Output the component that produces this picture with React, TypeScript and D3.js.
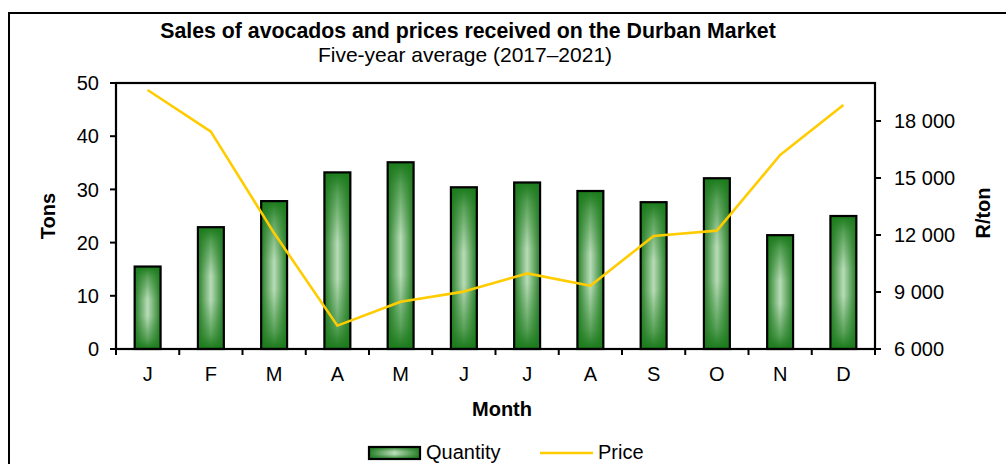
import React from "react";
import * as d3 from "d3";

const months = ["J", "F", "M", "A", "M", "J", "J", "A", "S", "O", "N", "D"];
const quantity = [15.5, 22.9, 27.8, 33.2, 35.1, 30.4, 31.3, 29.7, 27.6, 32.1, 21.4, 25.0];
const price = [19630, 17440, 12100, 7230, 8490, 9020, 9980, 9330, 11950, 12230, 16210, 18840];
const tonTicks = [0, 10, 20, 30, 40, 50];
const priceTicks = [6000, 9000, 12000, 15000, 18000];

const W = 1006;
const H = 464;
const m = { left: 116, right: 875, top: 83, bottom: 349 };
const FONT = "'Liberation Sans', Arial, sans-serif";
const FS = 20;

const fmt = (v: number) => d3.format(",")(v).replace(",", " ");

export default function App() {
  const keys = months.map((_, i) => String(i));
  const x = d3.scaleBand().domain(keys).range([m.left, m.right]).paddingInner(0).paddingOuter(0);
  const yL = d3.scaleLinear().domain([0, 50]).range([m.bottom, m.top]);
  const yR = d3.scaleLinear().domain([6000, 20000]).range([m.bottom, m.top]);
  const barW = x.bandwidth() * 0.41;

  const line = d3
    .line<number>()
    .x((_, i) => (x(String(i)) as number) + x.bandwidth() / 2)
    .y((d) => yR(d));

  return (
    <svg
      width={W}
      height={H}
      style={{ position: "absolute", left: 0, top: 0, background: "#fff" }}
      fontFamily={FONT}
    >
      <defs>
        <linearGradient id="barH" x1="0" x2="1" y1="0" y2="0">
          <stop offset="0%" stopColor="#267f26" />
          <stop offset="50%" stopColor="#b8dcb8" />
          <stop offset="100%" stopColor="#267f26" />
        </linearGradient>
        <linearGradient id="barV" x1="0" x2="0" y1="0" y2="1">
          <stop offset="0%" stopColor="#1a7a1a" stopOpacity={1} />
          <stop offset="12%" stopColor="#1a7a1a" stopOpacity={0.6} />
          <stop offset="40%" stopColor="#1a7a1a" stopOpacity={0} />
          <stop offset="60%" stopColor="#1a7a1a" stopOpacity={0} />
          <stop offset="88%" stopColor="#1a7a1a" stopOpacity={0.6} />
          <stop offset="100%" stopColor="#1a7a1a" stopOpacity={1} />
        </linearGradient>
      </defs>

      {/* outer frame, runs off the picture on the right and bottom */}
      <rect x={9} y={13} width={1010} height={470} fill="none" stroke="#000" strokeWidth={2} />

      <text x={468} y={38} textAnchor="middle" fontWeight="bold" fontSize={21.3}>
        Sales of avocados and prices received on the Durban Market
      </text>
      <text x={465} y={62} textAnchor="middle" fontSize={21}>
        Five-year average (2017–2021)
      </text>

      {/* bars */}
      {quantity.map((q, i) => {
        const bx = (x(String(i)) as number) + (x.bandwidth() - barW) / 2;
        const by = yL(q);
        const bh = yL(0) - by;
        return (
          <g key={i}>
            <rect x={bx} y={by} width={barW} height={bh} fill="url(#barH)" />
            <rect x={bx} y={by} width={barW} height={bh} fill="url(#barV)" stroke="#000" strokeWidth={2.2} />
          </g>
        );
      })}

      <path d={line(price) || ""} fill="none" stroke="#ffcc00" strokeWidth={2.6} strokeLinejoin="round" />

      {/* plot box */}
      <rect
        x={m.left}
        y={m.top}
        width={m.right - m.left}
        height={m.bottom - m.top}
        fill="none"
        stroke="#000"
        strokeWidth={2.2}
      />

      {/* left axis */}
      {tonTicks.map((t) => (
        <g key={t}>
          <line x1={m.left - 6} x2={m.left} y1={yL(t)} y2={yL(t)} stroke="#000" strokeWidth={2} />
          <text x={99} y={yL(t)} dy="0.36em" textAnchor="end" fontSize={FS}>
            {t}
          </text>
        </g>
      ))}

      {/* right axis */}
      {priceTicks.map((t) => (
        <g key={t}>
          <line x1={m.right} x2={m.right + 6} y1={yR(t)} y2={yR(t)} stroke="#000" strokeWidth={2} />
          <text x={894} y={yR(t)} dy="0.36em" textAnchor="start" fontSize={FS}>
            {fmt(t)}
          </text>
        </g>
      ))}

      {/* x axis ticks and labels */}
      {keys.concat(["12"]).map((k, i) => {
        const tx = i < 12 ? (x(k) as number) : m.right;
        return <line key={"t" + i} x1={tx} x2={tx} y1={m.bottom} y2={m.bottom + 6} stroke="#000" strokeWidth={2} />;
      })}
      {months.map((mo, i) => (
        <text
          key={"m" + i}
          x={(x(String(i)) as number) + x.bandwidth() / 2}
          y={381}
          textAnchor="middle"
          fontSize={FS}
        >
          {mo}
        </text>
      ))}

      <text x={502} y={416} textAnchor="middle" fontWeight="bold" fontSize={FS}>
        Month
      </text>
      <text transform="translate(55,216) rotate(-90)" textAnchor="middle" fontWeight="bold" fontSize={FS}>
        Tons
      </text>
      <text transform="translate(990,213) rotate(-90)" textAnchor="middle" fontWeight="bold" fontSize={FS}>
        R/ton
      </text>

      {/* legend */}
      <rect x={369} y={447} width={51} height={12} fill="url(#barH)" />
      <rect x={369} y={447} width={51} height={12} fill="url(#barV)" stroke="#000" strokeWidth={2.2} />
      <text x={426} y={459} fontSize={FS}>
        Quantity
      </text>
      <line x1={540} x2={593} y1={453} y2={453} stroke="#ffcc00" strokeWidth={2.6} />
      <text x={598} y={459} fontSize={FS}>
        Price
      </text>
    </svg>
  );
}
